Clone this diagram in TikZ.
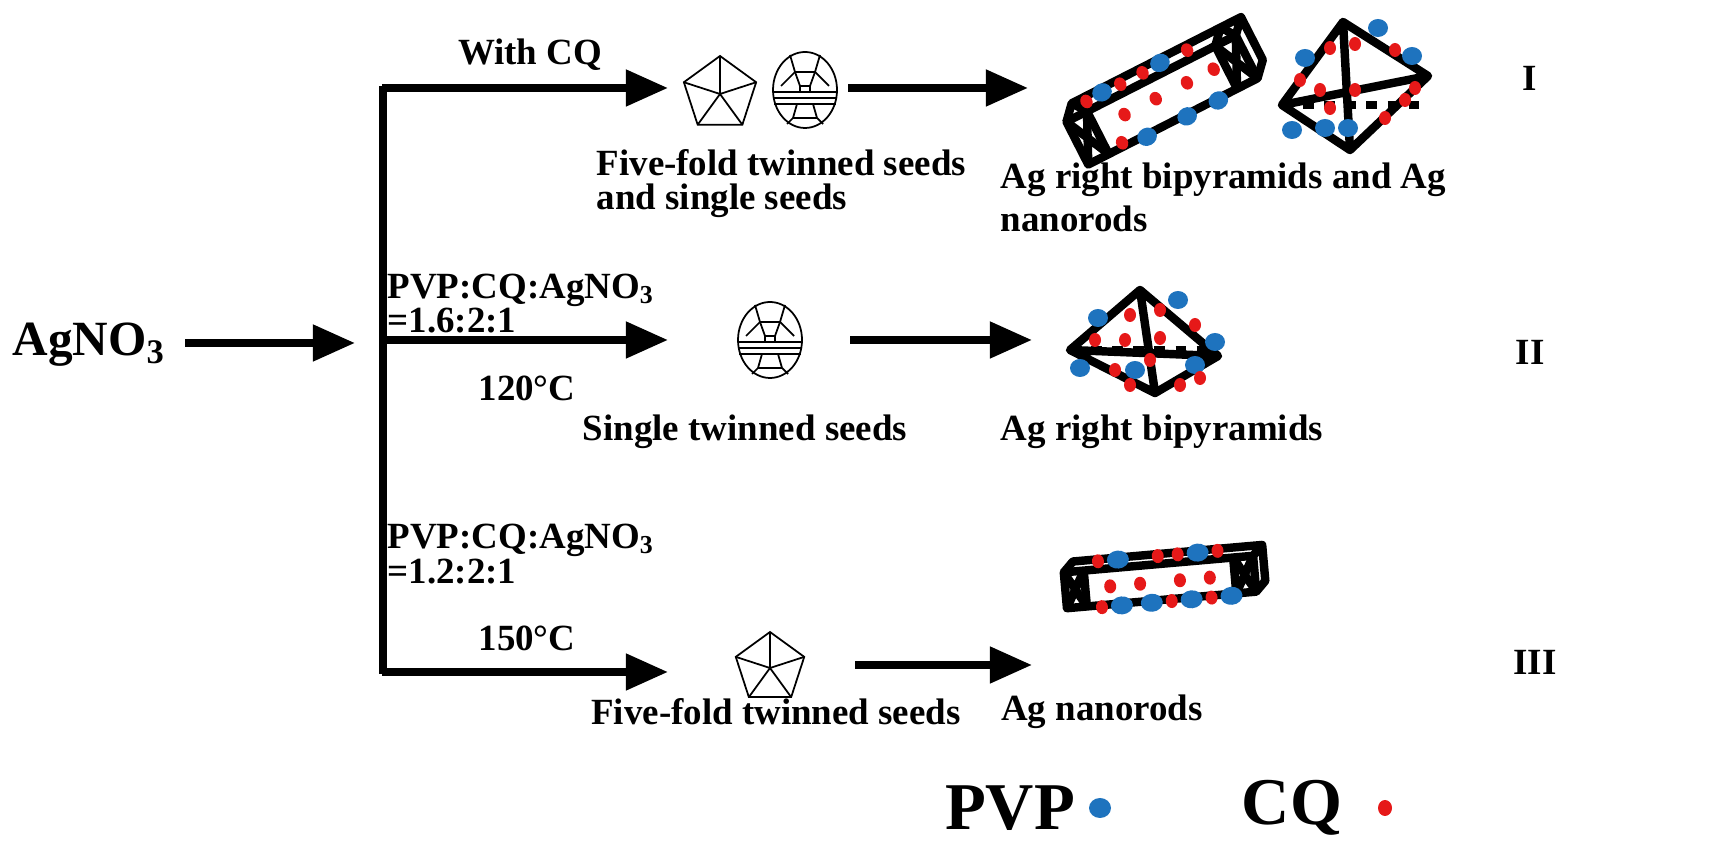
\documentclass[tikz,border=0pt]{standalone}
\usepackage{fontspec}
\setmainfont{Liberation Serif}
\usetikzlibrary{arrows.meta}
\begin{document}
\begin{tikzpicture}[x=0.01cm,y=-0.01cm,
  arr/.style={line width=2.2pt,-{Triangle[length=12pt,width=10pt]}},
  lbl/.style={font=\bfseries\fontsize{10.5}{12}\selectfont,inner sep=0pt},
  lblL/.style={lbl,anchor=west},
  big/.style={font=\bfseries\fontsize{19}{22}\selectfont,inner sep=0pt},
  thin/.style={line width=0.5pt},
  fr/.style={line width=2.4pt,line join=round},
  pvp/.style={fill={rgb,255:red,30;green,115;blue,190}},
  cq/.style={fill={rgb,255:red,230;green,25;blue,25}}]
\useasboundingbox (0,0) rectangle (1728,868);
\newcommand{\pent}[3]{%
  \begin{scope}[shift={(#1,#2)},thin]
   \draw (-90:#3)--(-18:#3)--(54:#3)--(126:#3)--(198:#3)--cycle;
   \foreach \a in {-90,-18,54,126,198} \draw (0,0)--(\a:#3);
  \end{scope}}
\newcommand{\ball}[2]{%
  \begin{scope}[shift={(#1,#2)},thin]
   \draw (0,0) ellipse (32 and 38);
   \draw (-32,2)--(32,2) (-32,8)--(32,8) (-31,14)--(31,14);
   \draw (-15,-35)--(-10,-18)--(10,-18)--(15,-35) (-10,-18)--(-24,-4) (10,-18)--(24,-4);
   \draw (-10,-18)--(-5,-4)--(5,-4)--(10,-18) (-5,-4)--(-5,2) (5,-4)--(5,2);
   \draw (-8,14)--(-12,28)--(12,28)--(8,14) (-12,28)--(-18,34) (12,28)--(18,34);
  \end{scope}}
\newcommand{\bipy}[8]{% left, top, right, bottom apex coordinates
  \draw[fr] (#1,#2)--(#3,#4)--(#5,#6)--(#7,#8)--cycle (#3,#4)--(#7,#8) (#1,#2)--(#5,#6);
  \draw[line width=2.4pt,dash pattern=on 3pt off 3pt] (#1,#2)--(#5-8,#2);}
% nodes
\node[font=\bfseries\fontsize{14}{17}\selectfont,inner sep=0pt,anchor=west] (ag) at (12,345) {AgNO$_\mathbf{3}$};
\coordinate (s) at (355,343);
\draw[arr] (185,343) -- (s);
\draw[line width=2.2pt] (383,86) -- (383,674);
\coordinate (a1) at (668,88); \coordinate (a2) at (668,340); \coordinate (a3) at (668,672);
\draw[arr] (382,88) -- (a1);
\draw[arr] (383,340) -- (a2);
\draw[arr] (382,672) -- (a3);
\node[lbl] (l1) at (530,55) {With CQ};
\node[lblL] (l2) at (387,290) {PVP:CQ:AgNO$_\mathbf{3}$};
\node[lblL] (l3) at (387,321) {=1.6:2:1};
\node[lbl] (l4) at (527,388) {120°C};
\node[lblL] (l5) at (387,540) {PVP:CQ:AgNO$_\mathbf{3}$};
\node[lblL] (l6) at (387,572) {=1.2:2:1};
\node[lbl] (l7) at (527,638) {150°C};
% seeds
\pent{720}{94}{38}
\ball{805}{90}
\ball{770}{340}
\pent{770}{668}{36}
% arrows mid
\draw[arr] (848,88) -- (1028,88);
\draw[arr] (850,340) -- (1032,340);
\draw[arr] (855,665) -- (1032,665);
% labels
\node[lblL] (t1) at (596,163) {Five-fold twinned seeds};
\node[lblL] (t2) at (596,201) {and single seeds};
\node[lblL] (t3) at (1000,180) {Ag right bipyramids and Ag};
\node[lblL] (t4) at (1000,219) {nanorods};
\node[lbl] (t5) at (745,432) {Single twinned seeds};
\node[lbl] (t6) at (1162,432) {Ag right bipyramids};
\node[lbl] (t7) at (776,712) {Five-fold twinned seeds};
\node[lbl] (t8) at (1102,712) {Ag nanorods};
\node[lbl] (r1) at (1530,78) {I};
\node[lbl] (r2) at (1530,352) {II};
\node[lbl] (r3) at (1535,662) {III};
% nanorod I
\begin{scope}[shift={(1162,100)},rotate=27]
 \draw[fr] (-95,-24) rectangle (95,24);
 \draw[fr] (-95,-24)--(-82,-38)--(108,-38)--(95,-24) (108,-38)--(108,10)--(95,24);
 \draw[fr] (-72,-24)--(-72,24) (72,-24)--(72,24);
 \draw[fr] (-95,-24)--(-72,24) (-95,24)--(-72,-24) (72,-24)--(95,24) (72,24)--(95,-24);
 \draw[fr] (-82,-38)--(-72,-24) (85,-38)--(72,-24) (85,-38)--(95,-24);
 \foreach \x in {-50,15} \fill[pvp] (\x,-34) ellipse (10 and 9);
 \foreach \x in {-68,-30,-5,45} \fill[cq] (\x,-33) ellipse (6 and 7);
 \foreach \x in {-40,-5,30,60} \fill[cq] (\x,-4) ellipse (6 and 7);
 \foreach \x in {-30,15,50} \fill[pvp] (\x,26) ellipse (10 and 9);
 \foreach \x in {-55} \fill[cq] (\x,20) ellipse (6 and 7);
\end{scope}
% bipyramid I
\bipy{1282}{105}{1343}{22}{1428}{76}{1350}{150}
\foreach \p in {(1305,58),(1378,28),(1292,130),(1325,128),(1348,128),(1412,56)} \fill[pvp] \p ellipse (10 and 9);
\foreach \p in {(1330,48),(1355,44),(1395,50),(1415,88),(1405,100),(1385,118),(1320,90),(1355,90),(1300,80),(1330,108)} \fill[cq] \p ellipse (6 and 7);
% bipyramid II
\bipy{1070}{350}{1140}{290}{1218}{356}{1155}{393}
\foreach \p in {(1098,318),(1178,300),(1080,368),(1135,370),(1215,342),(1195,365)} \fill[pvp] \p ellipse (10 and 9);
\foreach \p in {(1130,315),(1160,310),(1195,325),(1095,340),(1125,340),(1160,338),(1115,370),(1130,385),(1200,378),(1180,385),(1150,360)} \fill[cq] \p ellipse (6 and 7);
% nanorod III
\begin{scope}[shift={(1160,582)},rotate=5]
 \draw[fr] (-95,-18) rectangle (95,18);
 \draw[fr] (-95,-18)--(-85,-28)--(105,-28)--(95,-18) (105,-28)--(105,8)--(95,18);
 \draw[fr] (-75,-18)--(-75,18) (75,-18)--(75,18);
 \draw[fr] (-95,-18)--(-75,18) (-95,18)--(-75,-18) (75,-18)--(95,18) (75,18)--(95,-18);
 \foreach \x in {-40,40} \fill[pvp] (\x,-26) ellipse (11 and 9);
 \foreach \x in {-60,0,20,60} \fill[cq] (\x,-26) ellipse (6 and 7);
 \foreach \x in {-50,-20,20,50} \fill[cq] (\x,0) ellipse (6 and 7);
 \foreach \x in {-40,-10,30,70} \fill[pvp] (\x,20) ellipse (11 and 9);
 \foreach \x in {-60,10,50} \fill[cq] (\x,20) ellipse (6 and 7);
\end{scope}
% legend
\node[big] (pv) at (1010,808) {PVP};
\fill[pvp] (1100,808) ellipse (11 and 10) coordinate (pd);
\node[big] (cqn) at (1292,808) {CQ};
\fill[cq] (1385,808) ellipse (7 and 8) coordinate (cd);
\end{tikzpicture}
\end{document}
